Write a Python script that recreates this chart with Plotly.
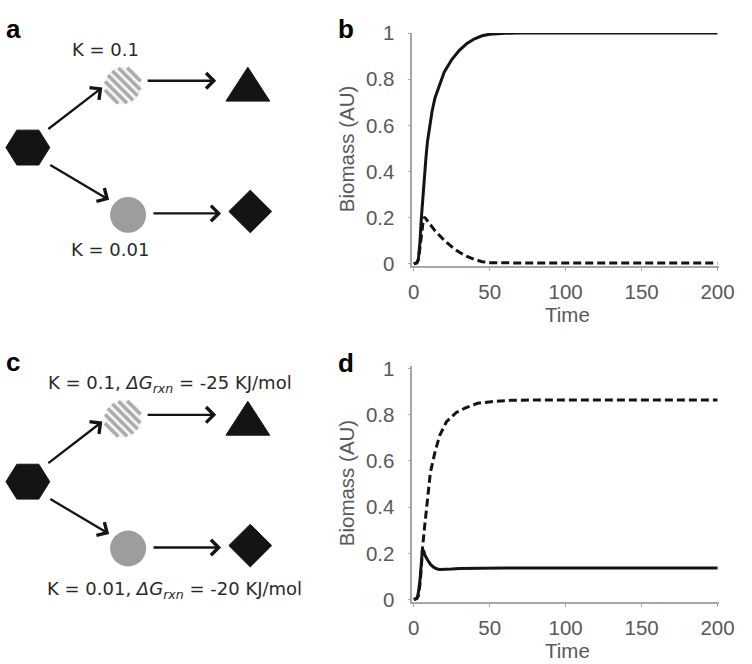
import math
import plotly.graph_objects as go

# ---------------- data ----------------
t_b_solid = [0, 2, 3, 4, 5, 6, 7, 8, 9, 10, 12, 14, 17, 20, 25, 30, 35, 40, 45, 50, 60, 70, 200]
b_solid = [0, 0.005, 0.02, 0.09, 0.2, 0.3, 0.39, 0.46, 0.53, 0.58, 0.66, 0.72, 0.78, 0.83, 0.885,
           0.925, 0.955, 0.975, 0.988, 0.995, 0.999, 1.0, 1.0]
t_b_dash = [0, 2, 3, 4, 5, 6, 6.8, 8, 10, 12, 14, 16, 18, 20, 23, 26, 30, 35, 40, 45, 50, 60, 80, 120, 200]
b_dash = [0, 0.004, 0.015, 0.06, 0.12, 0.175, 0.203, 0.195, 0.175, 0.16, 0.143, 0.128, 0.115, 0.102,
          0.085, 0.068, 0.05, 0.032, 0.019, 0.009, 0.005, 0.004, 0.003, 0.003, 0.003]
t_d_solid = [0, 2, 2.5, 3, 4, 5, 5.7, 6.5, 7.5, 9, 11, 13, 15, 17, 20, 25, 30, 40, 60, 200]
d_solid = [0, 0.005, 0.014, 0.03, 0.08, 0.16, 0.217, 0.21, 0.19, 0.172, 0.152, 0.14, 0.133, 0.13,
           0.13, 0.132, 0.134, 0.136, 0.137, 0.137]
t_d_dash = [0, 2, 3, 4, 5, 5.7, 7.2, 8.9, 10.9, 14, 17, 21.5, 28, 34, 42, 51, 64, 80, 200]
d_dash = [0, 0.004, 0.015, 0.06, 0.14, 0.22, 0.32, 0.42, 0.55, 0.64, 0.71, 0.77, 0.81, 0.83, 0.85,
          0.857, 0.863, 0.864, 0.864]

x_ticks = [0, 50, 100, 150, 200]
y_ticks = [0, 0.2, 0.4, 0.6, 0.8, 1]
y_title = "Biomass (AU)"
x_title = "Time"
labels_a = ["K = 0.1", "K = 0.01"]
labels_c = ["K = 0.1, <i>ΔG<sub>rxn</sub></i> = -25 KJ/mol",
            "K = 0.01, <i>ΔG<sub>rxn</sub></i> = -20 KJ/mol"]
panel_letters = ["a", "b", "c", "d"]

W, H = 752, 664
INK = "#141414"
AX = "#a6a6a6"
TXT = "#595959"

fig = go.Figure()
line_solid = dict(color=INK, width=3)
line_dash = dict(color=INK, width=3, dash="8px,4px")
fig.add_trace(go.Scatter(x=t_b_solid, y=b_solid, mode="lines", line=line_solid, xaxis="x", yaxis="y"))
fig.add_trace(go.Scatter(x=t_b_dash, y=b_dash, mode="lines", line=line_dash, xaxis="x", yaxis="y"))
fig.add_trace(go.Scatter(x=t_d_solid, y=d_solid, mode="lines", line=line_solid, xaxis="x2", yaxis="y2"))
fig.add_trace(go.Scatter(x=t_d_dash, y=d_dash, mode="lines", line=line_dash, xaxis="x2", yaxis="y2"))


def py(p):
    return 1 - p / H


xdom = [419.44 / W, 734.56 / W]
axis_common = dict(showgrid=False, zeroline=False, showline=True, linecolor=AX, linewidth=1.5,
                   ticks="outside", ticklen=3, tickcolor=AX, ticklabeloverflow="allow",
                   tickfont=dict(family="Liberation Sans, Arial", size=20.5, color=TXT))
fig.update_layout(
    width=W, height=H, margin=dict(l=0, r=0, t=0, b=0),
    paper_bgcolor="white", plot_bgcolor="rgba(0,0,0,0)", showlegend=False,
    xaxis=dict(domain=xdom, range=[-1, 201], tickvals=x_ticks, anchor="y", ticklabelstandoff=4, **axis_common),
    yaxis=dict(domain=[py(262.4), py(21.7)], range=[-0.01, 1.0], tickvals=y_ticks, anchor="x",
               ticklabelstandoff=9, **axis_common),
    xaxis2=dict(domain=xdom, range=[-1, 201], tickvals=x_ticks, anchor="y2", ticklabelstandoff=4, **axis_common),
    yaxis2=dict(domain=[py(609.1), py(365.9)], range=[-0.01, 1.01], tickvals=y_ticks, anchor="x2",
                ticklabelstandoff=9, **axis_common),
    # pixel-space overlay axes for the schematic diagrams
    xaxis3=dict(domain=[0, 1], range=[0, W], visible=False, anchor="y3", fixedrange=True),
    yaxis3=dict(domain=[0, 1], range=[H, 0], visible=False, anchor="x3", fixedrange=True),
)
fig.add_trace(go.Scatter(x=[376], y=[332], mode="markers", marker=dict(opacity=0, size=1),
                         xaxis="x3", yaxis="y3", hoverinfo="skip"))

shapes = []
annos = []
ref = dict(xref="x3", yref="y3")


def hexagon(cx, cy, hw, hh):
    q = hw * 0.5
    pts = [(cx - hw, cy), (cx - q, cy - hh), (cx + q, cy - hh), (cx + hw, cy), (cx + q, cy + hh), (cx - q, cy + hh)]
    return "M " + " L ".join(f"{x:.1f},{y:.1f}" for x, y in pts) + " Z"


def poly(pts):
    return "M " + " L ".join(f"{x:.1f},{y:.1f}" for x, y in pts) + " Z"


def hatched(cx, cy, r, spacing=6.5):
    out = [dict(type="circle", x0=cx - r, x1=cx + r, y0=cy - r, y1=cy + r,
                fillcolor="#f4f4f4", line=dict(width=0), **ref)]
    s = 1 / math.sqrt(2)
    k = 0.5
    while k * spacing < r:
        for d in (k * spacing, -k * spacing):
            h = math.sqrt(max(r * r - d * d, 0)) - 1
            nx, ny = d * s, -d * s
            out.append(dict(type="line", x0=cx + nx - h * s, y0=cy + ny - h * s,
                            x1=cx + nx + h * s, y1=cy + ny + h * s,
                            line=dict(color="#acacac", width=3.5), **ref))
        k += 1
    return out


def arrow(x0, y0, x1, y1):
    annos.append(dict(x=x1, y=y1, ax=x0, ay=y0, axref="x3", ayref="y3", text="", showarrow=True,
                      arrowhead=4, arrowsize=1.3, arrowwidth=2.3, arrowcolor=INK, standoff=0, **ref))


def diagram(dy, cy_hatch, cy_grey):
    shapes.append(dict(type="path", path=hexagon(24.5, 140 + dy, 22.5, 18), fillcolor=INK,
                       line=dict(color=INK, width=1), **ref))
    shapes.append(dict(type="path", path=poly([(250.5, 57 + dy), (273, 92 + dy), (228, 92 + dy)]),
                       fillcolor=INK, line=dict(color=INK, width=1), **ref))
    shapes.append(dict(type="path", path=poly([(253, 184 + dy), (275, 206 + dy), (253, 228 + dy), (231, 206 + dy)]),
                       fillcolor=INK, line=dict(color=INK, width=1), **ref))
    shapes.extend(hatched(122, cy_hatch, 19.5))
    shapes.append(dict(type="circle", x0=109, x1=146, y0=cy_grey - 18.5, y1=cy_grey + 18.5,
                       fillcolor="#9d9d9d", line=dict(width=0), **ref))
    arrow(44, 122 + dy, 101, 78 + dy)
    arrow(46, 157 + dy, 108, 194 + dy)
    arrow(146, 71 + dy, 218, 71 + dy)
    arrow(152, 208 + dy, 223, 208 + dy)


diagram(0, 76, 209.5)
diagram(345, 420, 554)

dfont = dict(family="DejaVu Sans", size=18, color="#2a2a2a")
annos.append(dict(x=104, y=39, text=labels_a[0], showarrow=False, font=dfont, **ref))
annos.append(dict(x=109, y=245, text=labels_a[1], showarrow=False, font=dfont, **ref))
annos.append(dict(x=171, y=384, text=labels_c[0], showarrow=False, font=dfont, **ref))
annos.append(dict(x=175, y=597, text=labels_c[1], showarrow=False, font=dfont, **ref))

lfont = dict(family="Liberation Sans, Arial", size=26, color="black")
for letter, (x, y) in zip(panel_letters, [(0, 0), (341, 0), (0, 344), (341, 345)]):
    annos.append(dict(x=x, y=y, xanchor="left", yanchor="top", text=f"<b>{letter}</b>",
                      showarrow=False, font=lfont, **ref))

tfont = dict(family="Liberation Sans, Arial", size=20.5, color=TXT)
annos.append(dict(x=352, y=142, text=y_title, textangle=-90, showarrow=False, font=tfont, **ref))
annos.append(dict(x=352, y=487, text=y_title, textangle=-90, showarrow=False, font=tfont, **ref))
annos.append(dict(x=579, y=312, text=x_title, showarrow=False, font=tfont, **ref))
annos.append(dict(x=579, y=659, text=x_title, showarrow=False, font=tfont, **ref))

fig.update_layout(shapes=shapes, annotations=annos)
css_js = ("document.documentElement.style.margin='0';document.documentElement.style.overflow='hidden';"
          "document.body.style.margin='0';document.body.style.overflow='hidden';")
fig.write_html("out.html", config={"displayModeBar": False}, post_script=css_js)
